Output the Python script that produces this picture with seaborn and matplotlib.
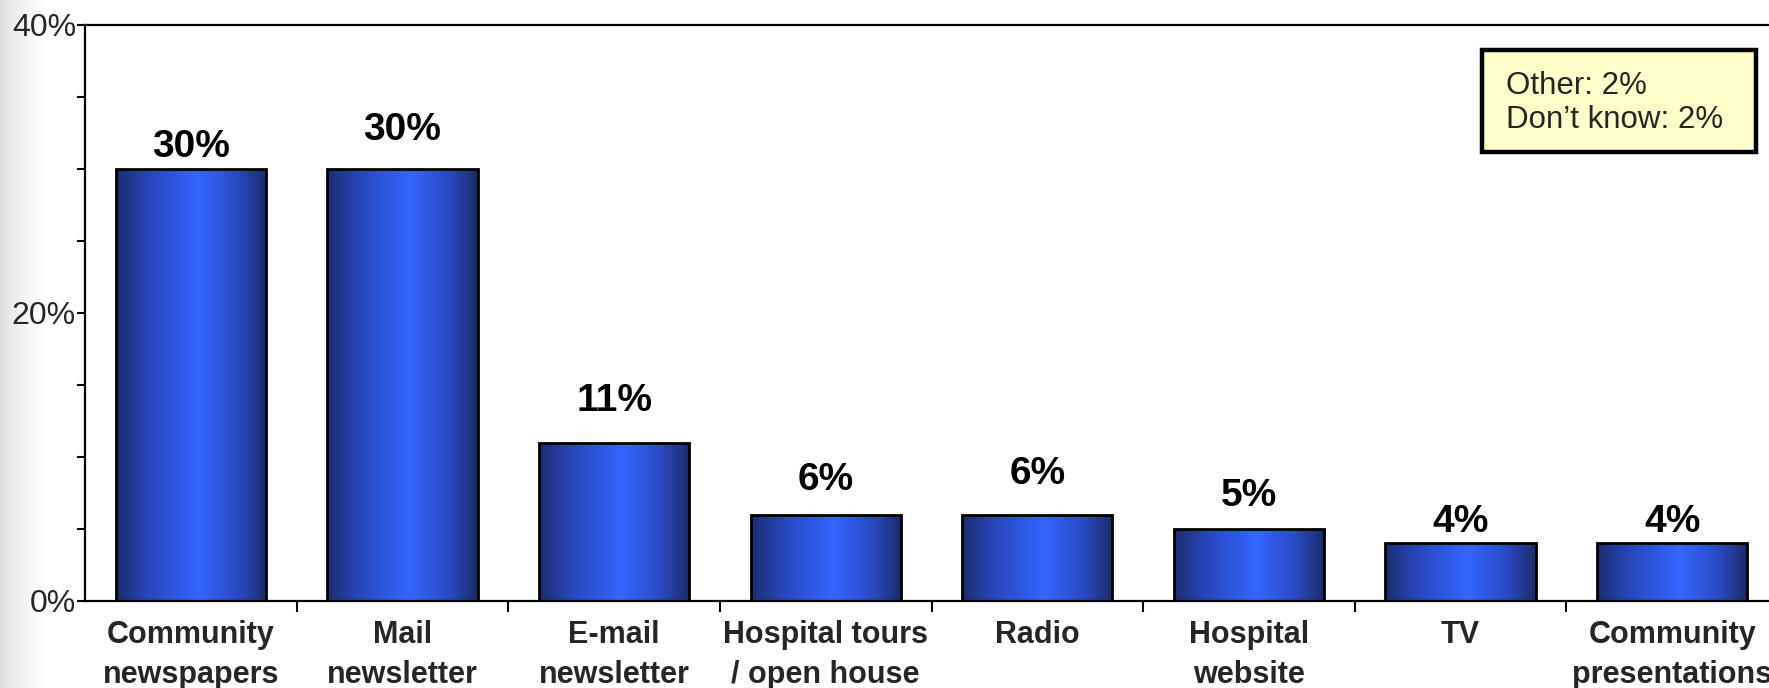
import numpy as np
import pandas as pd
import matplotlib
matplotlib.use("Agg")
import matplotlib.pyplot as plt
import seaborn as sns
from matplotlib.colors import LinearSegmentedColormap
from matplotlib.patches import Rectangle

# ---- data ----
categories = [
    "Community\nnewspapers",
    "Mail\nnewsletter",
    "E-mail\nnewsletter",
    "Hospital tours\n/ open house",
    "Radio",
    "Hospital\nwebsite",
    "TV",
    "Community\npresentations",
]
shares = [30, 30, 11, 6, 6, 5, 4, 4]
y_major = [0, 20, 40]
y_minor = [5, 10, 15, 25, 30, 35]
note_lines = ["Other: 2%", "Don\u2019t know: 2%"]

# vertical lift (pixels) of each value label above its bar top
label_lift_px = [22, 39, 42, 35, 41, 33, 21, 21]

W, H = 1769, 688

sns.set_theme(style="white")
plt.rcParams["font.family"] = ["Liberation Sans", "DejaVu Sans"]

fig = plt.figure(figsize=(W / 100, H / 100), dpi=100)
fig.patch.set_facecolor("white")

# soft grey fade along the left edge of the slide
bg = fig.add_axes([0, 0, 1, 1], zorder=-10)
bg.axis("off")
xs = np.arange(W)
fade = 0.86 + 0.14 * np.clip(xs / 45.0, 0, 1) ** 0.6
shade = np.tile(fade, (H, 1))
bg.imshow(np.dstack([shade, shade, shade]), extent=[0, W, 0, H], aspect="auto")
bg.set_xlim(0, W)
bg.set_ylim(0, H)

# plot area (extends slightly past the right edge of the canvas)
left, right, top, bottom = 85, 1778, 25, 601
ax = fig.add_axes([left / W, (H - bottom) / H, (right - left) / W, (bottom - top) / H])
ax.patch.set_alpha(0)

df = pd.DataFrame({"channel": categories, "share": shares})
sns.barplot(data=df, x="channel", y="share", ax=ax, width=0.71,
            color="#3366ff", edgecolor="black", linewidth=2.0, saturation=1)

# cylinder-style shading for each bar
bar_cmap = LinearSegmentedColormap.from_list(
    "bar_shine",
    [(0.0, "#1b2d6e"), (0.2, "#2845b8"), (0.55, "#3366ff"),
     (0.82, "#2a48bf"), (1.0, "#1a2b68")],
)
grad = np.linspace(0, 1, 256).reshape(1, -1)
for patch in ax.patches:
    x0, y0 = patch.get_x(), patch.get_y()
    w, h = patch.get_width(), patch.get_height()
    im = ax.imshow(grad, cmap=bar_cmap, extent=[x0, x0 + w, y0, y0 + h],
                   aspect="auto", zorder=1.5, interpolation="bicubic")
    im.set_clip_path(patch)
    patch.set_facecolor("none")
    patch.set_zorder(2)

ax.set_xlim(-0.5, len(categories) - 0.5)
ax.set_ylim(0, 40)
ax.set_xlabel("")
ax.set_ylabel("")

# value labels
for i, (v, lift) in enumerate(zip(shares, label_lift_px)):
    ax.annotate(f"{v}%", xy=(i, v), xytext=(0, lift), textcoords="offset pixels",
                ha="center", va="center", fontsize=28, fontweight="bold",
                color="black", zorder=3)

# y axis: labelled major ticks with unlabelled minor ticks between
ax.set_yticks(y_major)
ax.set_yticklabels([f"{t}%" for t in y_major], fontsize=23)
ax.set_yticks(y_minor, minor=True)
ax.tick_params(axis="y", which="both", direction="out", length=5.5, width=1.5,
               color="black", pad=1, left=True)

# x axis: category names centred, tick marks on the category boundaries
ax.set_xticks(range(len(categories)))
ax.set_xticklabels(categories, fontsize=22, fontweight="bold", linespacing=1.42)
ax.set_xticks(np.arange(0.5, len(categories) - 0.5, 1.0), minor=True)
ax.tick_params(axis="x", which="major", length=0, pad=14)
ax.tick_params(axis="x", which="minor", direction="out", length=8, width=1.5,
               color="black", bottom=True)

for side in ["left", "bottom", "top"]:
    ax.spines[side].set_visible(True)
    ax.spines[side].set_color("black")
    ax.spines[side].set_linewidth(1.6)
ax.spines["right"].set_visible(False)
ax.grid(False)

# note box with the remaining answers
bx0, bx1, by0, by1 = 1482, 1756, 50, 152
fig.patches.append(Rectangle((bx0 / W, 1 - by1 / H), (bx1 - bx0) / W, (by1 - by0) / H,
                             transform=fig.transFigure, facecolor="#ffffcc",
                             edgecolor="black", linewidth=3.2, zorder=5))
fig.text(1506 / W, 1 - 103 / H, "\n".join(note_lines), fontsize=22.5,
         ha="left", va="center", linespacing=1.2, zorder=6)

fig.savefig("out.png", dpi=100)
